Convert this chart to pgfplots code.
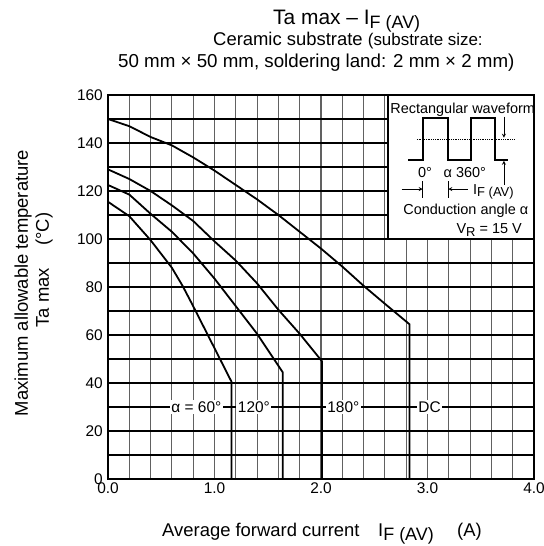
\documentclass[border=0pt]{standalone}
\usepackage{pgfplots}
\pgfplotsset{compat=1.18}
\usepackage{fontspec}
\setmainfont{Liberation Sans}
\newcommand\fs[1]{\fontsize{#1}{#1}\selectfont}
\newcommand\IFAV[1]{I\raisebox{-0.35ex}{\fs{#1}F (AV)}}
\begin{document}
\begin{tikzpicture}[x=1bp,y=1bp]
\useasboundingbox (-108,-67) rectangle (436,479);
\begin{axis}[
  at={(0,0)}, anchor=south west,
  scale only axis, width=426bp, height=384bp,
  xmin=0, xmax=4, ymin=0, ymax=160,
  xtick={0,1,2,3,4}, xticklabels={0.0,1.0,2.0,3.0,4.0},
  minor x tick num=4,
  ytick={0,20,40,60,80,100,120,140,160},
  yticklabels={0,20,40,60,80,100,120,140,160},
  minor y tick num=1,
  grid=both,
  x grid style={line width=1.1bp, black!62},
  y grid style={line width=1.1bp, black},
  major tick length=0, minor tick length=0,
  axis line style={line width=2.2bp},
  tick label style={font=\fs{15.5}},
  xticklabel style={anchor=north, inner sep=0pt, yshift=-4bp},
  yticklabel style={anchor=east, inner sep=0pt, xshift=-5bp},
]
% curve labels
\node[fill=white, inner sep=1.5bp, font=\fs{15.5}] at (axis cs:0.83,30) {α = 60°};
\node[fill=white, inner sep=1.5bp, font=\fs{15.5}] at (axis cs:1.37,30) {120°};
\node[fill=white, inner sep=1.5bp, font=\fs{15.5}] at (axis cs:2.21,30) {180°};
\node[fill=white, inner sep=1.5bp, font=\fs{15.5}] at (axis cs:3.02,30) {DC};
% curves
\addplot[black, line width=1.8bp] coordinates {(0,150) (0.2,147) (0.4,142.5) (0.6,139) (0.8,134) (1.0,128.5) (1.2,122.5) (1.4,116.5) (1.6,110) (1.8,103) (2.0,96) (2.2,88.5) (2.4,80.5) (2.6,73) (2.83,64.5) (2.83,0)};
\addplot[black, line width=1.8bp] coordinates {(0,129) (0.2,125) (0.4,120) (0.6,114) (0.8,107.5) (1.0,99) (1.2,91) (1.4,81.5) (1.6,70.5) (1.8,60.5) (2.01,49) (2.01,0)};
\addplot[black, line width=1.8bp] coordinates {(0,122.5) (0.2,118.5) (0.4,110.5) (0.6,103) (0.8,94) (1.0,83.5) (1.2,72) (1.4,60.5) (1.64,44.5) (1.64,0)};
\addplot[black, line width=1.8bp] coordinates {(0,115.5) (0.2,109.5) (0.4,99.5) (0.6,88) (0.7,80.5) (0.8,72) (1.0,54.5) (1.16,40.5) (1.16,0)};
% inset
\fill[white] (axis cs:2.63,100) rectangle (axis cs:4,160);
\draw[line width=2.2bp] (axis cs:2.63,100) rectangle (axis cs:4,160);
\node[anchor=west, inner sep=0pt, font=\fs{14.5}] at (axis cs:2.65,153.75) {Rectangular waveform};
\draw[line width=1.8bp] (axis cs:2.82,132.9) -- (axis cs:2.955,132.9) -- (axis cs:2.955,150.3) -- (axis cs:3.195,150.3) -- (axis cs:3.195,132.9) -- (axis cs:3.406,132.9) -- (axis cs:3.406,150.3) -- (axis cs:3.634,150.3) -- (axis cs:3.634,132.9) -- (axis cs:3.76,132.9);
\draw[densely dotted, line width=0.8bp] (axis cs:2.90,141.7) -- (axis cs:3.82,141.7);
\draw[-stealth, line width=0.8bp] (axis cs:3.718,151) -- (axis cs:3.718,142.2);
\draw[-stealth, line width=0.8bp] (axis cs:3.718,122.5) -- (axis cs:3.718,132.6);
\draw[-stealth, line width=0.8bp] (axis cs:2.758,120.8) -- (axis cs:2.955,120.8);
\draw[-stealth, line width=0.8bp] (axis cs:3.38,120.8) -- (axis cs:3.195,120.8);
\draw[line width=0.8bp] (axis cs:2.955,124) -- (axis cs:2.955,117);
\draw[line width=0.8bp] (axis cs:3.195,124) -- (axis cs:3.195,117);
\node[inner sep=0pt, font=\fs{14.5}] at (axis cs:2.977,127.5) {0°};
\node[inner sep=0pt, font=\fs{14.5}] at (axis cs:3.35,127.5) {α 360°};
\node[anchor=west, inner sep=0pt, font=\fs{14.5}] at (axis cs:3.427,119.6) {\IFAV{13}};
\node[inner sep=0pt, font=\fs{14.5}] at (axis cs:3.36,111.7) {Conduction angle α};
\node[anchor=east, inner sep=0pt, font=\fs{14.5}] at (axis cs:3.887,103.75) {V\raisebox{-0.35ex}{\fs{13}R} = 15 V};
\end{axis}
% titles
\node[anchor=base west, inner sep=0pt, font=\fs{21}] at (165,454) {Ta max – \IFAV{18}};
\node[anchor=base west, inner sep=0pt] at (105,433) {\fs{18.5}Ceramic substrate \fs{17}(substrate size:};
\node[anchor=base west, inner sep=0pt, font=\fs{18.8}] at (10,411) {50 mm × 50 mm, soldering land: 2 mm × 2 mm)};
% x label
\node[anchor=base west, inner sep=0pt, font=\fs{18.5}] at (54,-58) {Average forward current};
\node[anchor=base west, inner sep=0pt, font=\fs{18.5}] at (270,-58) {\IFAV{18}};
\node[anchor=base west, inner sep=0pt, font=\fs{18.5}] at (349,-58) {(A)};
% y label
\node[rotate=90, inner sep=0pt, font=\fs{18.5}] at (-85,196) {Maximum allowable temperature};
\node[rotate=90, inner sep=0pt, font=\fs{18.5}] at (-64,209) {Ta max\hspace{1.2em}(°C)};
\end{tikzpicture}
\end{document}
